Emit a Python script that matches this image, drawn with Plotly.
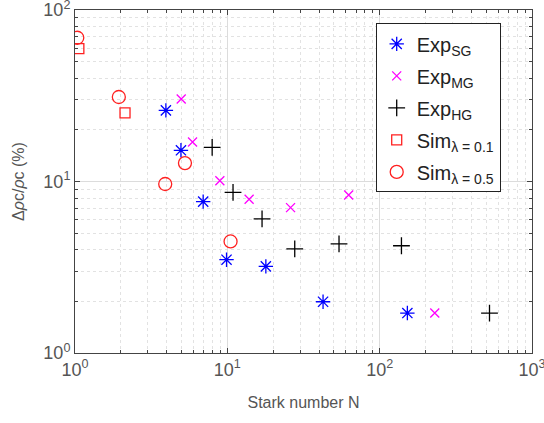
import plotly.graph_objects as go

# Exp SG
sg_x = [3.95, 4.96, 6.94, 9.88, 17.9, 42.5, 152]
sg_y = [26.0, 15.2, 7.63, 3.50, 3.20, 1.99, 1.71]
# Exp MG
mg_x = [4.98, 5.91, 8.93, 13.9, 26.0, 62.6, 230]
mg_y = [30.3, 17.0, 10.1, 7.88, 7.04, 8.35, 1.71]
# Exp HG
hg_x = [7.95, 10.9, 16.9, 27.7, 54.1, 139, 526]
hg_y = [15.8, 8.65, 6.05, 4.05, 4.33, 4.22, 1.71]
# Sim lambda=0.1
s1_x = [1.06, 2.13]
s1_y = [59.5, 25.1]
# Sim lambda=0.5
s5_x = [1.035, 1.94, 3.91, 5.27, 10.5]
s5_y = [68.9, 31.1, 9.67, 12.8, 4.47]

major = [1, 10, 100, 1000]
major_txt = ["10<sup>0</sup>", "10<sup>1</sup>", "10<sup>2</sup>", "10<sup>3</sup>"]
minor_x = [d * m for d in (1, 10, 100) for m in range(2, 10)]
minor_y = [d * m for d in (1, 10) for m in range(2, 10)]

FONT = "Liberation Sans, Arial, sans-serif"

fig = go.Figure()
series = [
    (sg_x, sg_y, "Exp<sub>SG</sub>", "asterisk-open", "#0000ff", 12),
    (mg_x, mg_y, "Exp<sub>MG</sub>", "x-thin-open", "#ff00ff", 9),
    (hg_x, hg_y, "Exp<sub>HG</sub>", "cross-thin-open", "#000000", 12),
    (s1_x, s1_y, "Sim<sub>λ = 0.1</sub>", "square-open", "#ff2020", 10),
    (s5_x, s5_y, "Sim<sub>λ = 0.5</sub>", "circle-open", "#ff2020", 13),
]
for i, (x, y, name, sym, col, sz) in enumerate(series):
    fig.add_trace(go.Scatter(
        x=x, y=y, mode="markers", name=name, legendgroup=f"g{i}",
        marker=dict(symbol=sym, color=col, size=sz, line=dict(color=col, width=1.3)),
    ))

axis_common = dict(
    type="log", showline=True, linecolor="#444", linewidth=1, mirror="allticks",
    ticks="inside", ticklen=5, tickcolor="#444",
    showgrid=True, gridcolor="#dcdcdc", gridwidth=1, zeroline=False,
    tickfont=dict(family=FONT, size=18, color="#555"),
    ticklabeloverflow="allow", automargin=False,
)

fig.update_xaxes(
    **axis_common, range=[0, 3], tickvals=major, ticktext=major_txt,
    minor=dict(tickvals=minor_x, ticks="inside", ticklen=3, tickcolor="#444",
               showgrid=True, gridcolor="#e2e2e2", griddash="dot"),
    title=dict(text="Stark number N", font=dict(family=FONT, size=16, color="#555"), standoff=18),
)
fig.update_yaxes(
    **axis_common, range=[0, 2], tickvals=major[:3], ticktext=major_txt[:3],
    minor=dict(tickvals=minor_y, ticks="inside", ticklen=3, tickcolor="#444",
               showgrid=True, gridcolor="#e2e2e2", griddash="dot"),
    title=dict(text="Δ<i>ρ</i>c/<i>ρ</i>c (%)", font=dict(family=FONT, size=16, color="#555"), standoff=14),
)

fig.update_layout(
    width=544, height=423,
    margin=dict(l=75, r=11.5, t=9.5, b=69.5, autoexpand=False),
    paper_bgcolor="white", plot_bgcolor="white",
    legend=dict(
        x=0.658, y=0.961, xanchor="left", yanchor="top",
        bgcolor="white", bordercolor="#222", borderwidth=1,
        font=dict(family=FONT, size=20, color="#222"),
        tracegroupgap=3, itemwidth=30,
    ),
)

fig.write_html("out.html")
